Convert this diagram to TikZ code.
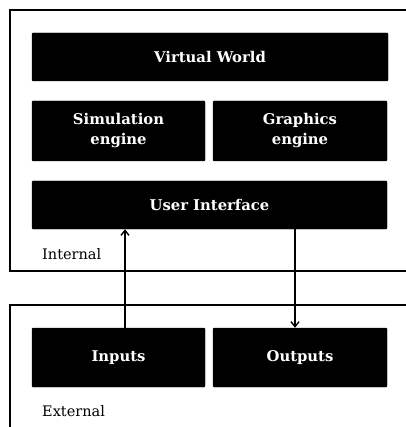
\documentclass[tikz,border=0pt]{standalone}
\usepackage{fontspec}
\setmainfont{DejaVu Serif}
\usetikzlibrary{arrows.meta}
\begin{document}
\begin{tikzpicture}[x=1pt,y=-1pt,
  blk/.style={draw=black,fill=black,rounded corners=1pt,text=white,
    font=\fontsize{14.8}{20}\selectfont\bfseries,align=center,inner sep=0pt},
  frame/.style={draw=black,line width=1.2pt},
  lbl/.style={font=\fontsize{14.5}{16}\selectfont,anchor=west,inner sep=0pt},
  conn/.style={line width=1.4pt,-{Straight Barb[length=5pt,width=8pt,line width=1.4pt]}}]
\useasboundingbox (0,0) rectangle (405,427);
\draw[frame] (410,10) -- (10,10) -- (10,271) -- (410,271);
\draw[frame] (410,305) -- (10,305) -- (10,432);
\node[blk,minimum width=356pt,minimum height=48pt] (vw) at (210,57) {Virtual World};
\node[blk,minimum width=173pt,minimum height=60pt] (sim) at (118.5,131) {Simulation\\engine};
\node[blk,minimum width=174pt,minimum height=60pt] (gfx) at (300,131) {Graphics\\engine};
\node[blk,minimum width=355pt,minimum height=48pt] (ui) at (209.5,205) {User Interface};
\node[blk,minimum width=173pt,minimum height=59pt] (in) at (118.5,357.5) {Inputs};
\node[blk,minimum width=174pt,minimum height=59pt] (out) at (300,357.5) {Outputs};
\node[lbl] (int) at (42,254) {Internal};
\node[lbl] (ext) at (42,411) {External};
\coordinate (ax) at (125,0);
\coordinate (bx) at (295,0);
\draw[conn] (in.north -| ax) -- (ui.south -| ax);
\draw[conn] (ui.south -| bx) -- (out.north -| bx);
\end{tikzpicture}
\end{document}
